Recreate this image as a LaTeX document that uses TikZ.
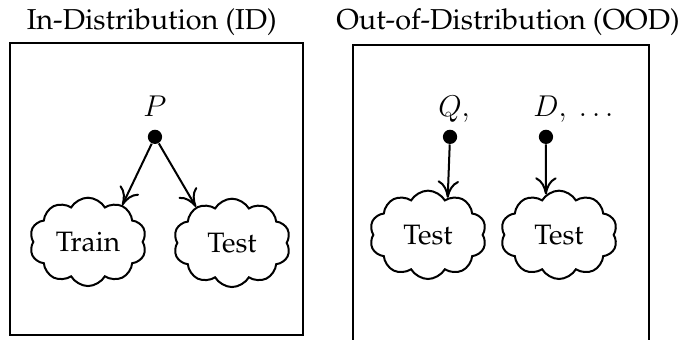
\documentclass[tikz,border=0pt]{standalone}
\usepackage[T1]{fontenc}
\renewcommand{\rmdefault}{ppl}
\usetikzlibrary{arrows.meta,shapes.symbols,positioning}
\tikzset{distbox/.style={draw,line width=.8pt}, sample/.style={cloud,cloud puffs=10,cloud puff arc=120,aspect=1.4,draw,line width=.8pt,minimum width=1.64cm,minimum height=1.24cm,inner sep=0pt,font=\fontsize{11.2}{13}\selectfont}, source/.style={circle,fill,inner sep=0pt,minimum size=.2cm}, drawarrow/.style={line width=.8pt,-{To[length=2.4mm,width=3mm]}}, heading/.style={font=\fontsize{11.5}{13}\selectfont}, varlabel/.style={anchor=base,font=\fontsize{11.5}{13}\selectfont}}
\begin{document}
\begin{tikzpicture}
\useasboundingbox (0,0) rectangle (9.6,4.77);
\draw[distbox] (0.14,0.07) rectangle (4.25,4.17);
\draw[distbox] (4.95,-0.4) rectangle (9.11,4.14);
\node[heading] (idtitle) at (2.13,4.46) {In-Distribution (ID)};
\node[heading] (oodtitle) at (7.13,4.46) {Out-of-Distribution (OOD)};
\node[source] (p) at (2.175,2.849) {};
\node[source] (q) at (6.316,2.849) {};\node[source] (d) at (7.663,2.849) {};
\node[varlabel] (plabel) at ([yshift=1.8mm]p.north) {$P$};
\node[varlabel] (qlabel) at ([yshift=1.8mm]q.north) {$Q$\rlap{$,$}};
\node[varlabel] (dlabel) at ([yshift=1.8mm]d.north) {$D$\rlap{$,\ \dots$}};
\node[sample] (train) at (1.235,1.375) {Train};
\node[sample] (testid) at (3.256,1.361) {Test};
\node[sample] (testq) at (6.007,1.474) {Test};
\node[sample] (testd) at (7.846,1.474) {Test};
\draw[drawarrow] (p) -- (train.47);
\draw[drawarrow] (p) -- (testid.135);
\draw[drawarrow] (q) -- (testq.62);
\draw[drawarrow] (d) -- (testd.108);
\end{tikzpicture}
\end{document}
